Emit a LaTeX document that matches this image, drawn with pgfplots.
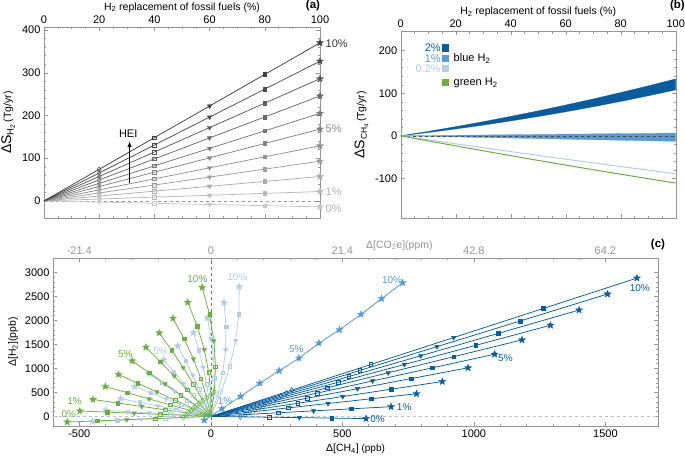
\documentclass[border=0pt]{standalone}
\usepackage{fontspec}
\setmainfont{Liberation Sans}
\usepackage{pgfplots}
\pgfplotsset{compat=1.18}
\usetikzlibrary{arrows.meta}

\definecolor{dblue}{RGB}{10,92,156}
\definecolor{mblue}{RGB}{88,153,214}
\definecolor{lblue}{RGB}{180,205,228}
\definecolor{mgreen}{RGB}{107,174,69}
\definecolor{axgray}{RGB}{150,150,150}
\definecolor{labgray}{RGB}{150,150,150}
\definecolor{g0}{gray}{0.78}
\definecolor{g1}{gray}{0.727}
\definecolor{g2}{gray}{0.674}
\definecolor{g3}{gray}{0.621}
\definecolor{g4}{gray}{0.568}
\definecolor{g5}{gray}{0.515}
\definecolor{g6}{gray}{0.462}
\definecolor{g7}{gray}{0.409}
\definecolor{g8}{gray}{0.356}
\definecolor{g9}{gray}{0.303}
\definecolor{g10}{gray}{0.25}

\pgfdeclareplotmark{fstar}{%
 \pgfpathmoveto{\pgfpointpolar{90}{\pgfplotmarksize}}%
 \pgfpathlineto{\pgfpointpolar{126}{0.42\pgfplotmarksize}}%
 \pgfpathlineto{\pgfpointpolar{162}{\pgfplotmarksize}}%
 \pgfpathlineto{\pgfpointpolar{198}{0.42\pgfplotmarksize}}%
 \pgfpathlineto{\pgfpointpolar{234}{\pgfplotmarksize}}%
 \pgfpathlineto{\pgfpointpolar{270}{0.42\pgfplotmarksize}}%
 \pgfpathlineto{\pgfpointpolar{306}{\pgfplotmarksize}}%
 \pgfpathlineto{\pgfpointpolar{342}{0.42\pgfplotmarksize}}%
 \pgfpathlineto{\pgfpointpolar{18}{\pgfplotmarksize}}%
 \pgfpathlineto{\pgfpointpolar{54}{0.42\pgfplotmarksize}}%
 \pgfpathclose
 \pgfusepathqfillstroke
}

\newcommand{\fanline}[2]{%
 \addplot[#1, no marks, line width=0.75pt] coordinates {#2};
 \addplot[#1, only marks, mark=diamond, mark size=2.6pt, mark options={fill=white, line width=0.5pt}, mark indices={2}] coordinates {#2};
 \addplot[#1, only marks, mark=square, mark size=1.8pt, mark options={fill=white, line width=0.5pt}, mark indices={3}] coordinates {#2};
 \addplot[#1, only marks, mark=triangle*, mark size=2.6pt, mark options={rotate=180}, mark indices={4}] coordinates {#2};
 \addplot[#1, only marks, mark=square*, mark size=1.8pt, mark indices={5}] coordinates {#2};
 \addplot[#1, only marks, mark=fstar, mark size=3.7pt, mark options={line width=0.3pt}, mark indices={6}] coordinates {#2};
}

\pgfplotsset{
 myax/.style={scale only axis, anchor=south west,
  axis line style={draw=axgray}, every tick/.style={draw=axgray},
  every tick label/.append style={font=\fontsize{11}{13}\selectfont},
  /pgf/number format/assume math mode=true,
  /pgf/number format/1000 sep={},
  label style={font=\fontsize{10.5}{12}\selectfont},
  major tick length=4pt, minor tick length=2.2pt, clip=false, tick align=inside},
}

\begin{document}
\begin{tikzpicture}
\useasboundingbox (0,0) rectangle (685pt,463pt);

% ---------------- (a)
\begin{axis}[myax, at={(44pt,245pt)}, width=276pt, height=191pt,
 xmin=0, xmax=100, ymin=-40, ymax=407,
 xtick={0,20,...,100}, minor x tick num=3,
 ytick={0,100,...,400}, minor y tick num=4,
 xticklabel pos=upper,
 xlabel={H\textsubscript{2} replacement of fossil fuels (\%)},
 xlabel style={yshift=-3.5pt},
 ylabel={{\fontsize{14}{16}\selectfont ΔS}\raisebox{-2.5pt}{\fontsize{9.5}{10}\selectfont H\textsubscript{2}}\,(Tg/yr)}]
\addplot[axgray, dashed, line width=0.5pt] coordinates {(0,0) (100,0)};
\fanline{g0}{(0,0)(20,-2.8)(40,-5.6)(60,-8.4)(80,-11.2)(100,-14)}
\fanline{g1}{(0,0)(20,4.4)(40,8.8)(60,13.2)(80,17.6)(100,22)}
\fanline{g2}{(0,0)(20,11.4)(40,22.8)(60,34.2)(80,45.6)(100,57)}
\fanline{g3}{(0,0)(20,18.6)(40,37.2)(60,55.8)(80,74.4)(100,93)}
\fanline{g4}{(0,0)(20,25.8)(40,51.6)(60,77.4)(80,103.2)(100,129)}
\fanline{g5}{(0,0)(20,33.6)(40,67.2)(60,100.8)(80,134.4)(100,168)}
\fanline{g6}{(0,0)(20,41)(40,82)(60,123)(80,164)(100,205)}
\fanline{g7}{(0,0)(20,49.1)(40,98.2)(60,147.4)(80,196.5)(100,245.6)}
\fanline{g8}{(0,0)(20,57.2)(40,114.4)(60,171.6)(80,228.8)(100,286)}
\fanline{g9}{(0,0)(20,65.4)(40,130.8)(60,196.2)(80,261.6)(100,327)}
\fanline{g10}{(0,0)(20,74)(40,148)(60,222)(80,296)(100,370)}
\draw[-{Latex[length=5.5pt,width=4.5pt]}, line width=0.7pt] (axis cs:31,43) -- (axis cs:31,139);
\node[font=\fontsize{11}{12}\selectfont] at (axis cs:30.5,158) {HEI};
\node[anchor=west, inner sep=0pt, text=black!80, font=\fontsize{11}{12}\selectfont] at (axis cs:102,369) {10\%};
\node[anchor=west, inner sep=0pt, text=black!45, font=\fontsize{11}{12}\selectfont] at (axis cs:102,168) {5\%};
\node[anchor=west, inner sep=0pt, text=black!30, font=\fontsize{11}{12}\selectfont] at (axis cs:102,22) {1\%};
\node[anchor=west, inner sep=0pt, text=black!30, font=\fontsize{11}{12}\selectfont] at (axis cs:102,-19) {0\%};
\end{axis}

% ---------------- (b)
\begin{axis}[myax, at={(400.7pt,245pt)}, width=275pt, height=186.5pt,
 xmin=0, xmax=100, ymin=-193, ymax=245,
 xtick={0,20,...,100}, minor x tick num=3,
 ytick={-100,0,100,200}, minor y tick num=4,
 xticklabel pos=upper,
 xlabel={H\textsubscript{2} replacement of fossil fuels (\%)},
 xlabel style={yshift=-3.5pt},
 ylabel={{\fontsize{14}{16}\selectfont ΔS}\raisebox{-2.5pt}{\fontsize{8.5}{9}\selectfont CH\textsubscript{4}}\,(Tg/yr)}]
\addplot[fill=dblue, draw=dblue, line width=0.3pt] coordinates {(0,0)(10,10.4)(20,21.5)(30,33.2)(40,45.6)(50,58.6)(60,72.3)(70,86.6)(80,101.6)(90,117.3)(100,133.6)(100,107.8)(90,93.9)(80,80.7)(70,68.2)(60,56.4)(50,45.3)(40,34.9)(30,25.1)(20,16.1)(10,7.7)(0,0)};
\addplot[fill=mblue, draw=mblue, line width=0.3pt] coordinates {(0,0)(100,6.5)(100,-13)(0,0)};
\addplot[black!70, dashed, line width=0.5pt] coordinates {(0,0) (100,0)};
\addplot[lblue, line width=1pt] coordinates {(0,0)(10,-9.4)(20,-18.8)(30,-28)(40,-37)(50,-46)(60,-54.8)(70,-63.6)(80,-72.2)(90,-80.6)(100,-89)};
\addplot[mgreen, line width=1pt] coordinates {(0,0)(10,-11.9)(20,-23.6)(30,-35.2)(40,-46.6)(50,-57.8)(60,-68.8)(70,-79.6)(80,-90.2)(90,-100.7)(100,-111)};
\begin{scope}[every node/.append style={font=\fontsize{11}{13}\selectfont}]
\node[anchor=east, inner sep=0pt, text=dblue] at (axis cs:14.6,206) {2\%};
\node[anchor=east, inner sep=0pt, text=mblue] at (axis cs:14.6,181.5) {1\%};
\node[anchor=east, inner sep=0pt, text=lblue] at (axis cs:14.6,158) {0.2\%};
\node[fill=dblue, minimum size=7.3pt, inner sep=0pt] at (axis cs:16.3,206) {};
\node[fill=mblue, minimum size=7.3pt, inner sep=0pt] at (axis cs:16.3,181.5) {};
\node[fill=lblue, minimum size=7.3pt, inner sep=0pt] at (axis cs:16.3,158) {};
\node[fill=mgreen, minimum size=7.3pt, inner sep=0pt] at (axis cs:16.3,124.4) {};
\node[anchor=west, inner sep=0pt] at (axis cs:19.2,181.5) {blue H\textsubscript{2}};
\node[anchor=west, inner sep=0pt] at (axis cs:19.2,124.4) {green H\textsubscript{2}};
\end{scope}
\end{axis}

% ---------------- (c) top axis
\begin{axis}[myax, at={(53pt,37pt)}, width=605pt, height=168pt,
 xmin=-600, xmax=1700, ymin=-200, ymax=3300,
 axis x line*=top, axis y line=none,
 xtick={-500,0,500,1000,1500}, xticklabels={-21.4,0,21.4,42.8,64.2},
 xticklabel style={text=labgray}, major tick length=0pt]
\addplot[draw=none] coordinates {(0,0)};
\node[text=labgray, font=\fontsize{10.5}{12}\selectfont] at (axis cs:717,3560) {Δ[CO\textsubscript{2}e](ppm)};
\end{axis}

% ---------------- (c)
\begin{axis}[myax, at={(53pt,37pt)}, width=605pt, height=168pt,
 xmin=-600, xmax=1700, ymin=-200, ymax=3300,
 xtick={-500,0,500,1000,1500}, minor x tick num=4,
 ytick={0,500,...,3000}, minor y tick num=4,
 xticklabel pos=lower,
 xlabel={Δ[CH\textsubscript{4}] {\fontsize{10}{11}\selectfont (ppb)}},
 ylabel={Δ[H\textsubscript{2}](ppb)}]
\addplot[black!25, dashed, line width=1.1pt] coordinates {(-600,0) (1700,0)};
\addplot[black!55, dashed, line width=0.5pt] coordinates {(0,-200) (0,3300)};
% dark blue (2% blue H2)
\fanline{dblue}{(0,0)(112.1,-8.6)(221.3,-16.9)(336.3,-25.7)(460.2,-35.1)(590,-45)}
\fanline{dblue}{(0,0)(130.2,38.4)(256.9,75.8)(390.5,115.1)(534.3,157.6)(685,202)}
\fanline{dblue}{(0,0)(148.6,89.7)(293.3,177.0)(445.7,269.0)(610.0,368.2)(782,472)}
\fanline{dblue}{(0,0)(167.2,138.1)(330.0,272.6)(501.6,414.4)(686.4,567.1)(880,727)}
\fanline{dblue}{(0,0)(185.8,192.3)(366.8,379.5)(557.5,576.8)(762.8,789.4)(978,1012)}
\fanline{dblue}{(0,0)(205.0,246.2)(404.6,486.0)(615.0,738.7)(841.6,1010.9)(1079,1296)}
\fanline{dblue}{(0,0)(224.8,302.9)(443.6,597.8)(674.3,908.6)(922.7,1243.3)(1183,1594)}
\fanline{dblue}{(0,0)(245.3,360.6)(484.1,711.8)(735.9,1081.9)(1007.0,1480.4)(1291,1898)}
\fanline{dblue}{(0,0)(266.0,421.0)(525.0,831.0)(798.0,1263.1)(1092.0,1728.5)(1400,2216)}
\fanline{dblue}{(0,0)(286.5,484.3)(565.5,955.9)(859.6,1452.9)(1176.2,1988.2)(1508,2549)}
\fanline{dblue}{(0,0)(307.8,547.6)(607.5,1080.8)(923.4,1642.7)(1263.6,2248.0)(1620,2882)}
% light blue (0.2% blue H2)
\fanline{lblue}{(0,0)(-85.5,-20.0)(-173.3,-40.4)(-263.3,-61.4)(-355.5,-83.0)(-450,-105)}
\fanline{lblue}{(0,0)(-76,23.8)(-154,48.1)(-234,73.1)(-316,98.8)(-400,125)}
\fanline{lblue}{(0,0)(-65.2,69.9)(-132.1,141.7)(-200.7,215.3)(-271.0,290.7)(-343,368)}
\fanline{lblue}{(0,0)(-55.1,118.4)(-111.7,239.9)(-169.7,364.5)(-229.1,492.2)(-290,623)}
\fanline{lblue}{(0,0)(-44.8,169.1)(-90.9,342.7)(-138.1,520.7)(-186.4,703.1)(-236,890)}
\fanline{lblue}{(0,0)(-33.2,223.8)(-67.7,453.5)(-103.5,689.1)(-140.6,930.6)(-179,1178)}
\fanline{lblue}{(0,0)(-20.8,279.1)(-43.8,565.6)(-68.8,859.4)(-96.2,1160.5)(-126,1469)}
\fanline{lblue}{(0,0)(-6.3,331.6)(-15.9,671.8)(-28.9,1020.8)(-45.5,1378.6)(-66,1745)}
\fanline{lblue}{(0,0)(9.0,389.5)(12.8,789.3)(10.6,1199.3)(2.1,1619.5)(-13,2050)}
\fanline{lblue}{(0,0)(26.4,450.1)(45.3,912.1)(56.0,1385.9)(57.7,1871.5)(50,2369)}
\fanline{lblue}{(0,0)(40.2,513.2)(71.9,1039.9)(94.3,1580.1)(106.5,2133.8)(108,2701)}
% green H2
\fanline{mgreen}{(0,0)(-103.7,-22.2)(-210.2,-45.0)(-319.4,-68.4)(-431.3,-92.4)(-546,-117)}
\fanline{mgreen}{(0,0)(-94.6,21.3)(-191.7,43.1)(-291.3,65.5)(-393.4,88.5)(-498,112)}
\fanline{mgreen}{(0,0)(-85.1,67.1)(-172.5,135.9)(-262.1,206.5)(-353.9,278.9)(-448,353)}
\fanline{mgreen}{(0,0)(-76.2,118.4)(-154.4,239.9)(-234.6,364.5)(-316.8,492.2)(-401,623)}
\fanline{mgreen}{(0,0)(-66.7,165.9)(-135.1,336.1)(-205.3,510.7)(-277.3,689.7)(-351,873)}
\fanline{mgreen}{(0,0)(-56.0,219.8)(-113.9,445.4)(-173.7,676.8)(-235.4,914.0)(-299,1157)}
\fanline{mgreen}{(0,0)(-43.8,273.8)(-90.4,554.8)(-139.6,843.0)(-191.8,1138.4)(-247,1441)}
\fanline{mgreen}{(0,0)(-31.0,330.4)(-66.0,669.5)(-105.0,1017.3)(-148.2,1373.8)(-196,1739)}
\fanline{mgreen}{(0,0)(-15.9,388.4)(-37.6,786.9)(-66.0,1195.7)(-101.4,1614.8)(-144,2044)}
\fanline{mgreen}{(0,0)(0.2,451.4)(-7.9,914.8)(-24.8,1390.0)(-51.3,1877.0)(-88,2376)}
\fanline{mgreen}{(0,0)(13.4,510.7)(17.6,1034.9)(11.8,1572.5)(-4.9,2123.5)(-33,2688)}
% medium blue (1% blue H2)
\addplot[mblue, line width=0.8pt, mark=fstar, mark size=3.7pt, mark options={line width=0.3pt}] coordinates {(-25,-80)(42,160)(113,416)(186,690)(260,950)(335,1213)(411,1525)(489,1805)(571,2127)(649,2452)(729,2784)};
% labels
\begin{scope}[every node/.append style={font=\fontsize{10}{11}\selectfont}]
\node[text=dblue] at (axis cs:1631,2680) {10\%};
\node[text=dblue] at (axis cs:1120,1213) {5\%};
\node[text=dblue] at (axis cs:735,187) {1\%};
\node[text=dblue] at (axis cs:634,-54) {0\%};
\node[text=mblue] at (axis cs:689,2840) {10\%};
\node[text=mblue] at (axis cs:325,1407) {5\%};
\node[text=mblue] at (axis cs:54,312) {1\%};
\node[text=mgreen] at (axis cs:-51,2868) {10\%};
\node[text=mgreen] at (axis cs:-325,1303) {5\%};
\node[text=mgreen] at (axis cs:-518,320) {1\%};
\node[text=mgreen] at (axis cs:-540,42) {0\%};
\node[text=lblue] at (axis cs:101,2909) {10\%};
\node[text=lblue] at (axis cs:-191,1371) {5\%};
\end{scope}
\end{axis}

\node[font=\bfseries\fontsize{11.5}{13}\selectfont] at (313pt,457pt) {(a)};
\node[font=\bfseries\fontsize{11.5}{13}\selectfont, anchor=east, inner sep=0pt] at (685pt,457pt) {(b)};
\node[font=\bfseries\fontsize{11.5}{13}\selectfont] at (658pt,218pt) {(c)};
\end{tikzpicture}
\end{document}
